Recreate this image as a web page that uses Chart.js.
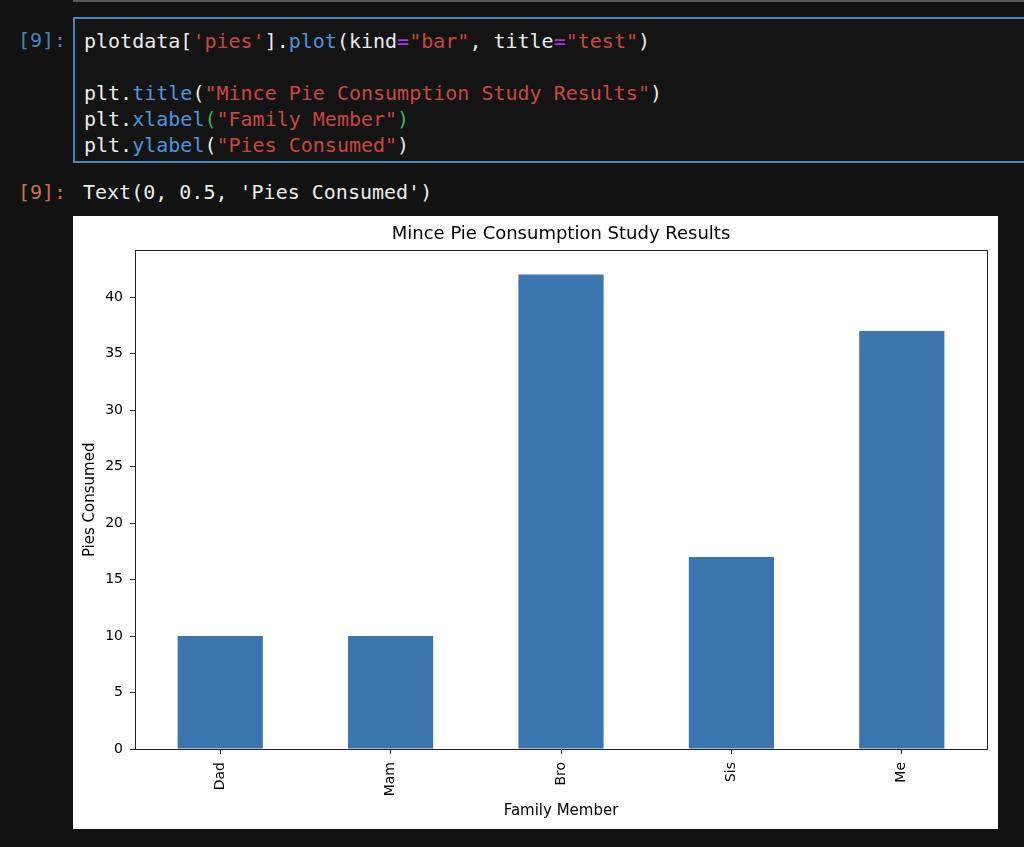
<!DOCTYPE html>
<html>
<head>
<meta charset="utf-8">
<script src="https://cdn.jsdelivr.net/npm/chart.js@4/dist/chart.umd.min.js"></script>
<style>
  body { margin: 0; background: #121212; width: 1024px; height: 847px; overflow: hidden; position: relative; font-family: "DejaVu Sans Mono", monospace; }
  .topline { position: absolute; left: 73px; top: 0; width: 951px; height: 2px; background: #5a5a5a; }
  .prompt { position: absolute; left: 18px; font-size: 20px; line-height: 26px; }
  .cell { position: absolute; left: 73px; top: 17px; width: 960px; height: 142px; border: 2px solid #4a84c0; background: #141414; }
  .code { position: absolute; left: 9px; top: 9px; font-size: 20px; line-height: 26px; color: #ececec; white-space: pre; }
  .out { position: absolute; left: 83px; top: 179px; font-size: 20px; line-height: 26px; color: #ececec; white-space: pre; }
  .s { color: #c8483f; }
  .f { color: #4d94dc; }
  .o { color: #a23ad4; }
  .g { color: #3fb950; }
  #box { position: absolute; left: 73px; top: 216px; width: 925px; height: 613px; background: #fff; }
</style>
</head>
<body>
<div class="topline"></div>
<div class="prompt" style="top:27px;color:#4a84c0">[9]:</div>
<div class="cell"><div class="code">plotdata[<span class="s">'pies'</span>].<span class="f">plot</span>(kind<span class="o">=</span><span class="s">"bar"</span>, title<span class="o">=</span><span class="s">"test"</span>)

plt.<span class="f">title</span>(<span class="s">"Mince Pie Consumption Study Results"</span>)
plt.<span class="f">xlabel</span><span class="g">(</span><span class="s">"Family Member"</span><span class="g">)</span>
plt.<span class="f">ylabel</span>(<span class="s">"Pies Consumed"</span>)</div></div>
<div class="prompt" style="top:179px;color:#c8714e">[9]:</div>
<div class="out">Text(0, 0.5, 'Pies Consumed')</div>
<div id="box"><canvas id="grafico" width="925" height="613"></canvas></div>
<script>
// datos del grafico
const familia = ["Dad", "Mam", "Bro", "Sis", "Me"];
const pasteles = [10, 10, 42, 17, 37];
const ticksY = [0, 5, 10, 15, 20, 25, 30, 35, 40];
const maxY = 44.1;
const titulo = "Mince Pie Consumption Study Results";
const tituloX = "Family Member";
const tituloY = "Pies Consumed";

const colorBarra = "#3a75b0";
const colorEje = "#222";
const fuente = "DejaVu Sans";

var config = {
  type: "bar",
  data: {
    labels: familia,
    datasets: [{
      data: pasteles,
      backgroundColor: colorBarra,
      barPercentage: 0.5,
      categoryPercentage: 1.0
    }]
  },
  options: {
    responsive: false,
    animation: false,
    layout: { padding: { left: 0, right: 11, top: 0, bottom: 0 } },
    plugins: {
      legend: { display: false },
      tooltip: { enabled: false }
    },
    scales: {
      x: {
        position: "bottom",
        afterFit: function (s) { s.height = 80; },
        grid: { offset: false, drawOnChartArea: false, drawTicks: true, tickLength: 5, color: colorEje },
        border: { display: true, color: colorEje, width: 1 },
        ticks: { autoSkip: false, minRotation: 90, maxRotation: 90, padding: 8, color: "#000", font: { family: fuente, size: 14 } },
        title: { display: true, text: tituloX, color: "#000", font: { family: fuente, size: 15 }, padding: { top: 0, bottom: 9 } }
      },
      x2: {
        type: "category",
        position: "top",
        afterFit: function (s) { s.height = 34.7; },
        grid: { drawOnChartArea: false, drawTicks: false },
        border: { display: true, color: colorEje, width: 1 },
        ticks: { display: false },
        title: { display: true, text: titulo, color: "#000", font: { family: fuente, size: 18 }, padding: { top: 8, bottom: 0 } }
      },
      y: {
        position: "left",
        min: 0,
        max: maxY,
        afterFit: function (s) { s.width = 62; },
        afterBuildTicks: function (s) { s.ticks = ticksY.map(v => ({ value: v })); },
        grid: { drawOnChartArea: false, drawTicks: true, tickLength: 5, color: colorEje },
        border: { display: true, color: colorEje, width: 1 },
        ticks: { padding: 7, color: "#000", font: { family: fuente, size: 14 } },
        title: { display: true, text: tituloY, color: "#000", font: { family: fuente, size: 15 }, padding: { top: 8, bottom: 0 } }
      },
      y2: {
        type: "linear",
        position: "right",
        min: 0,
        max: 1,
        afterFit: function (s) { s.width = 0; },
        grid: { drawOnChartArea: false, drawTicks: false },
        border: { display: true, color: colorEje, width: 1 },
        ticks: { display: false }
      }
    }
  }
};

var ctx = document.getElementById("grafico").getContext("2d");
window.grafico = new Chart(ctx, config);
</script>
</body>
</html>
